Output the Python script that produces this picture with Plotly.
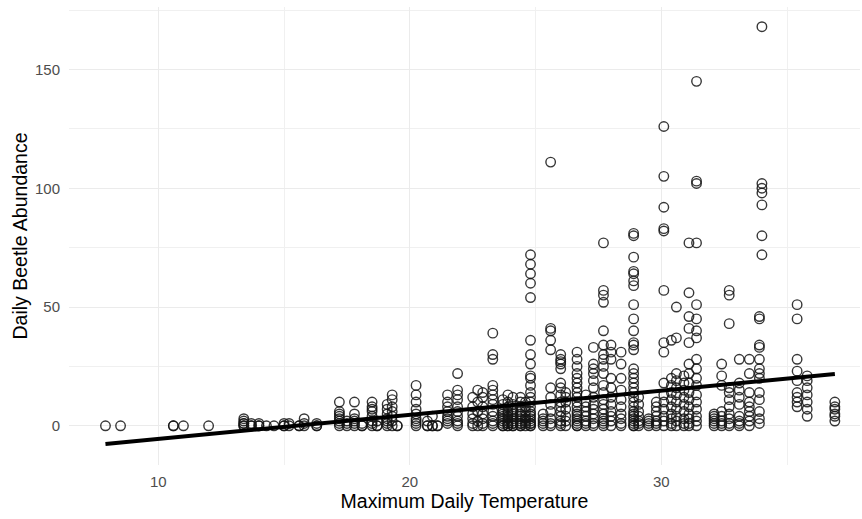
import plotly.graph_objects as go

# Maximum daily temperature (x) and beetle counts observed on days at that temperature
temps = [7.9, 8.5, 10.6, 11.0, 12.0, 13.4, 13.7, 14.0, 14.3, 14.6, 15.0, 15.2, 15.6, 15.8, 16.3,
         17.2, 17.5, 17.8, 18.1, 18.5, 18.7, 19.1, 19.3, 19.5, 20.25, 20.7, 20.9, 21.1, 21.5,
         21.9, 22.5, 22.7, 22.9, 23.3, 23.7, 23.9, 24.1, 24.4, 24.6, 24.8, 25.3, 25.6, 26.0,
         26.2, 26.65, 27.0, 27.3, 27.7, 28.0, 28.4, 28.9, 29.1, 29.5, 29.8, 30.1, 30.4, 30.6,
         30.9, 31.1, 31.4, 32.1, 32.4, 32.7, 33.1, 33.5, 33.9, 34.0, 35.4, 35.8, 36.9]

abundance = [
    [0], [0], [0, 0], [0], [0],
    [0, 0, 1, 1, 2, 3], [0, 1, 0], [0, 0, 1], [0], [0],
    [0, 1, 0], [0, 1], [0, 0], [0, 1, 3], [0, 0, 1],
    [0, 1, 2, 3, 4, 5, 6, 10], [0, 1, 2], [0, 1, 2, 3, 5, 10], [0, 1, 0],
    [0, 1, 2, 4, 6, 7, 8, 10], [0, 0, 2], [0, 1, 2, 3, 5, 7, 9],
    [0, 2, 4, 6, 8, 11, 13], [0, 0], [0, 1, 2, 3, 5, 7, 10, 13, 17],
    [0, 0, 2], [0, 0, 4], [0, 0], [1, 2, 3, 4, 6, 8, 10, 13],
    [0, 1, 2, 4, 6, 8, 11, 13, 15, 22], [0, 1, 3, 5, 8, 12], [0, 2, 6, 10, 15],
    [0, 1, 3, 5, 8, 12, 14], [0, 1, 2, 4, 6, 9, 11, 13, 15, 17, 28, 30, 39],
    [0, 0, 1, 2, 3, 4, 5, 6, 7, 9, 11], [0, 0, 1, 1, 2, 3, 4, 5, 6, 8, 10, 13],
    [0, 0, 1, 1, 2, 3, 4, 5, 6, 7, 9, 12], [0, 0, 1, 1, 2, 3, 4, 5, 6, 8, 10, 12],
    [0, 1, 2, 3, 4, 6, 8, 10],
    [0, 0, 1, 1, 2, 3, 4, 5, 6, 8, 10, 12, 14, 17, 20, 21, 26, 30, 36, 54, 60, 64, 68, 72],
    [0, 1, 2, 3, 5], [0, 1, 3, 6, 9, 12, 16, 32, 36, 40, 41, 111],
    [0, 1, 2, 4, 6, 8, 10, 13, 16, 18, 24, 26, 27, 28, 30], [0, 2, 4, 7, 10, 12, 14],
    [0, 0, 1, 2, 3, 4, 5, 6, 8, 10, 12, 14, 16, 18, 20, 22, 25, 28, 31],
    [0, 1, 2, 4, 6, 8, 10, 13], [0, 1, 3, 5, 7, 9, 12, 16, 19, 22, 24, 26, 33],
    [0, 1, 2, 3, 5, 7, 9, 11, 14, 17, 22, 25, 28, 30, 34, 40, 52, 55, 57, 77],
    [0, 2, 4, 6, 9, 12, 16, 20, 28, 31, 34], [0, 1, 3, 5, 8, 11, 15, 20, 26, 31],
    [0, 0, 1, 2, 3, 4, 5, 6, 8, 10, 12, 14, 16, 18, 20, 22, 24, 32, 34, 35, 40, 45, 51,
     59, 61, 64, 65, 71, 80, 81],
    [0, 1, 2, 4, 6, 9, 12], [0, 1, 2, 3], [0, 1, 2, 4, 6, 8, 10],
    [0, 2, 4, 7, 10, 13, 18, 31, 35, 57, 82, 83, 92, 105, 126],
    [0, 1, 3, 5, 8, 11, 14, 17, 20, 36], [0, 2, 4, 7, 10, 13, 16, 19, 22, 37, 50],
    [0, 1, 3, 6, 9, 12, 15, 18, 21],
    [0, 1, 3, 5, 8, 11, 14, 18, 22, 26, 35, 41, 46, 56, 77],
    [0, 2, 4, 7, 10, 13, 17, 20, 24, 28, 37, 40, 45, 51, 77, 102, 103, 145],
    [0, 1, 2, 3, 4, 5], [0, 1, 2, 4, 6, 17, 21, 26],
    [0, 1, 3, 5, 8, 11, 14, 16, 43, 55, 57], [0, 1, 2, 4, 9, 12, 15, 18, 28],
    [0, 2, 4, 6, 8, 10, 14, 22, 28],
    [1, 3, 6, 11, 14, 20, 22, 24, 28, 33, 34, 45, 46],
    [72, 80, 93, 98, 100, 102, 168],
    [8, 10, 12, 14, 19, 23, 28, 45, 51], [4, 7, 10, 13, 16, 19, 21], [2, 4, 5, 7, 8, 10],
]

# Linear fit
fit_intercept = -15.7
fit_slope = 1.016

x_tick_vals = [10, 20, 30]
y_tick_vals = [0, 50, 100, 150]

xs, ys = [], []
for t, vals in zip(temps, abundance):
    for v in vals:
        xs.append(t)
        ys.append(v)

x_line = [min(xs), max(xs)]
y_line = [fit_intercept + fit_slope * x for x in x_line]

point_color = "rgba(20,20,20,0.85)"
fig = go.Figure()
fig.add_trace(go.Scatter(
    x=xs, y=ys, mode="markers",
    marker=dict(symbol="circle-open", size=9.5, color=point_color,
                line=dict(width=1.4, color=point_color)),
    showlegend=False, hoverinfo="x+y",
))
fig.add_trace(go.Scatter(
    x=x_line, y=y_line, mode="lines",
    line=dict(color="black", width=4), showlegend=False,
))

font_family = "Liberation Sans, Arial, sans-serif"
fig.update_layout(
    width=862, height=519,
    margin=dict(l=69, r=2, t=7, b=54),
    paper_bgcolor="white", plot_bgcolor="white",
    font=dict(family=font_family, color="#4D4D4D", size=15),
    xaxis=dict(
        range=[6.45, 37.9], tickvals=x_tick_vals, ticktext=[str(v) for v in x_tick_vals],
        showgrid=True, gridcolor="#EBEBEB", gridwidth=1, zeroline=False, showline=False,
        ticks="", ticklabelstandoff=6,
        minor=dict(tickvals=[15, 25, 35], showgrid=True, gridcolor="#F0F0F0", gridwidth=0.7),
        title=dict(text="Maximum Daily Temperature", font=dict(size=19.5, color="black"),
                   standoff=2),
        tickfont=dict(size=15, color="#4D4D4D"),
    ),
    yaxis=dict(
        range=[-16.5, 176.3], tickvals=y_tick_vals, ticktext=[str(v) for v in y_tick_vals],
        showgrid=True, gridcolor="#EBEBEB", gridwidth=1, zeroline=False, showline=False,
        ticks="", ticklabelstandoff=8,
        minor=dict(tickvals=[25, 75, 125, 175], showgrid=True, gridcolor="#F0F0F0", gridwidth=0.7),
        title=dict(text="Daily Beetle Abundance", font=dict(size=19.5, color="black"),
                   standoff=2),
        tickfont=dict(size=15, color="#4D4D4D"),
    ),
)

fig.write_html("out.html")
